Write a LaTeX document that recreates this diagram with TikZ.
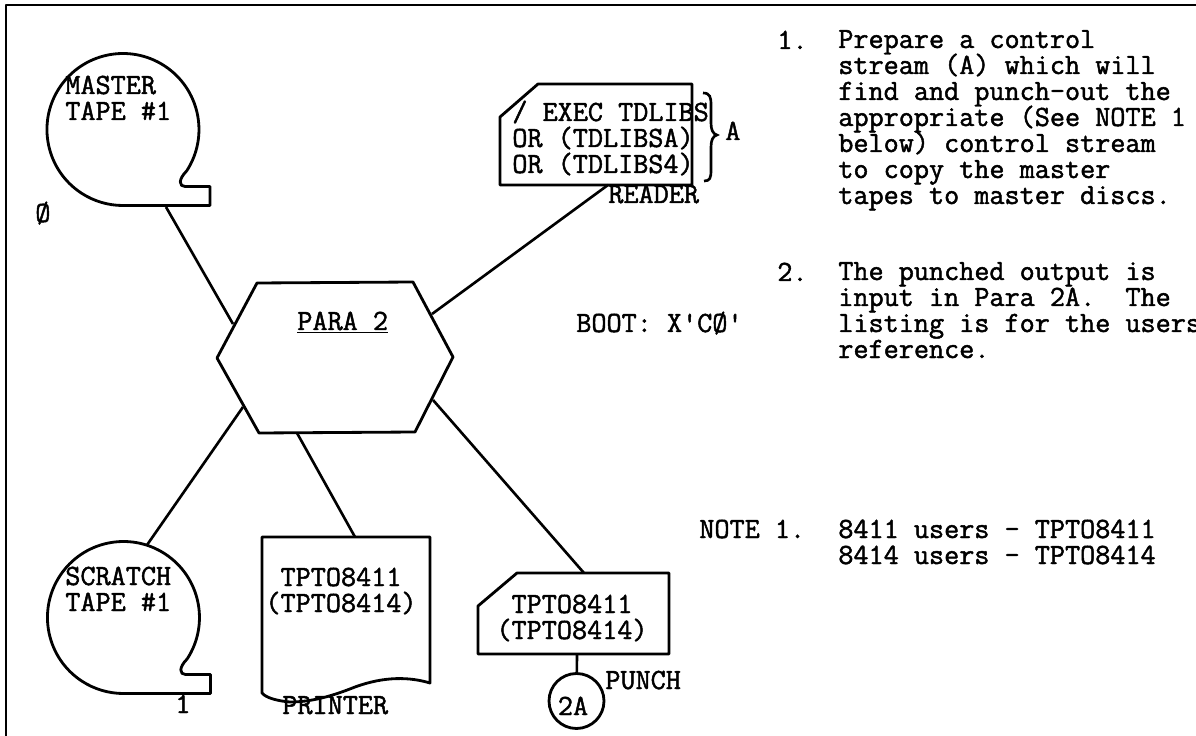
\documentclass[tikz,border=0pt]{standalone}
\usepackage{fontspec}
\usepackage{tikz}
\usetikzlibrary{positioning}
\newfontfamily\typerfont{Latin Modern Mono}[FakeBold=1.6]
\tikzset{%
	outline/.style = {draw, line width = 1.6pt, line join = round}, % Shape edge
	link/.style    = {draw, line width = 1.5pt}, % Connector
	tag/.style     = {inner sep = 0pt, anchor = base west, align = left, font = \fontsize{16.7}{14.8}\selectfont\typerfont\lineskiplimit -100pt\relax}, % Text
	midtag/.style  = {tag, anchor = base, align = center}, % Centered text
	tape/.pic      = {\draw[outline] (63.7,41.4) arc[start angle = 33, end angle = -270, radius = 76] -- (87,76) -- (87,57) -- (62,57) .. controls (56,57) and (55,50) .. (63.7,41.4);}, % Tape reel
}

\begin{document}
\begin{tikzpicture}[x = 0.02cm, y = -0.02cm]
	\useasboundingbox (0,0) rectangle (1196,736);
	% frame
	\coordinate (framea) at (6,736);
	\coordinate (frameb) at (6,5);
	\coordinate (framec) at (1196,5);
	\draw[outline] (framea) -- (frameb) -- (framec);
	% tapes
	\pic at (123,129.5) {tape};
	\pic at (123.5,617.5) {tape};
	\node[tag] (master) at (65,120) {MASTER\\TAPE \#1};
	\node[tag] (zero) at (35,222) {Ø};
	\node[tag] (scratch) at (65,611) {SCRATCH\\TAPE \#1};
	\node[tag] (one) at (175,713) {1};
	% para hexagon
	\draw[outline] (257,283) -- (413,282) -- (453,357) -- (415,432) -- (259,433) -- (217,358) -- cycle;
	\node[tag] (para) at (297,330) {\underline{PARA 2}};
	% reader card
	\draw[outline] (538,84) -- (692,84) -- (692,185) -- (500,185) -- (500,117) -- cycle;
	\node[tag] (exec) at (512,173) {/ EXEC TDLIBS\\OR (TDLIBSA)\\OR (TDLIBS4)};
	\node[tag] (reader) at (608,203) {READER};
	\draw[link] (703,93) .. controls (710,93) and (711,97) .. (711,105) -- (711,123) .. controls (711,130) and (713,134) .. (717,135) .. controls (713,136) and (711,140) .. (711,147) -- (711,170) .. controls (711,178) and (710,181) .. (704,181);
	\node[tag] (bracea) at (725,140) {A};
	% printer sheet
	\draw[outline] (262,537) -- (430,537) -- (430,683) .. controls (410,677) and (385,676) .. (355,687) .. controls (330,697) and (310,702) .. (290,702) .. controls (278,701) and (266,698) .. (262,693) -- cycle;
	\node[midtag] (print) at (341,612) {TPTO8411\\(TPTO8414)};
	\node[tag] (printer) at (282,714) {PRINTER};
	% punch card
	\draw[outline] (517,573) -- (669,573) -- (669,654) -- (478,654) -- (478,606) -- cycle;
	\node[midtag] (cards) at (572,639) {TPTO8411\\(TPTO8414)};
	\node[draw, circle, line width = 1.6pt, minimum size = 1.1cm, inner sep = 0pt] (twoa) at (576.5,701) {};
	\node[midtag] (twoatext) at (573,715) {2A};
	\node[tag] (punch) at (605,689) {PUNCH};
	\coordinate (punchstem) at (577,654);
	\draw[link] (punchstem) -- (twoa);
	% connectors
	\coordinate (masterfoot) at (166,207);
	\coordinate (hexnw) at (233,324);
	\coordinate (readerfoot) at (608,185);
	\coordinate (hexne) at (432,314);
	\coordinate (scratchtop) at (147,545);
	\coordinate (hexsw) at (243,407);
	\coordinate (printtop) at (355,537);
	\coordinate (hexs) at (297,433);
	\coordinate (punchtop) at (584,573);
	\coordinate (hexse) at (433,400);
	\draw[link] (masterfoot) -- (hexnw);
	\draw[link] (readerfoot) -- (hexne);
	\draw[link] (scratchtop) -- (hexsw);
	\draw[link] (printtop) -- (hexs);
	\draw[link] (punchtop) -- (hexse);
	% notes
	\node[tag] (boot) at (576,332) {BOOT: X'CØ'};
	\node[tag] (stepa) at (777,49) {1.};
	\node[tag] (stepatext) at (838,204) {Prepare a control\\stream (A) which will\\find and punch-out the\\appropriate (See NOTE 1\\below) control stream\\to copy the master\\tapes to master discs.};
	\node[tag] (stepb) at (777,281) {2.};
	\node[tag] (stepbtext) at (838,358) {The punched output is\\input in Para 2A.~ The\\listing is for the users\\reference.};
	\node[tag] (note) at (699,538) {NOTE 1.};
	\node[tag] (notes) at (838,564) {8411 users - TPTO8411\\8414 users - TPTO8414};
\end{tikzpicture}
\end{document}
